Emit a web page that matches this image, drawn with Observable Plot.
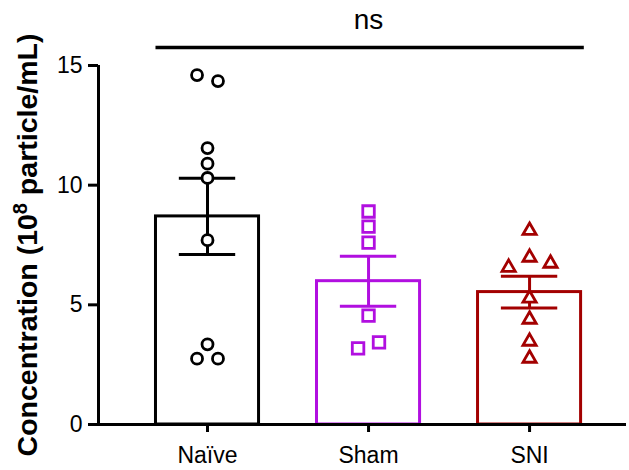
<!DOCTYPE html>
<html><head><meta charset="utf-8">
<script src="https://cdn.jsdelivr.net/npm/d3@7"></script>
<script src="https://cdn.jsdelivr.net/npm/@observablehq/plot@0.6"></script>
<style>body{margin:0;background:#fff;}</style>
</head><body><div id="chart"></div>
<script>
// ---- data ----
const groups = ["Naïve", "Sham", "SNI"];
const colors = ["#000000", "#b10fe0", "#a30000"];
const symbols = ["circle", "square", "triangle"];
const naive = [14.6, 14.35, 11.55, 10.9, 10.3, 7.7, 3.35, 2.75, 2.75];
const sham = [8.9, 8.27, 7.6, 4.55, 3.18, 3.43];
const sni = [8.1, 6.56, 6.98, 6.73, 5.27, 4.39, 3.47, 2.76];
const yTicks = [0, 5, 10, 15];
const yLabelParts = ["Concentration (10", "8", " particle/mL)"];
const sigLabel = "ns";

// ---- derived ----
const series = [naive, sham, sni];
const rowBin = 0.5;      // values closer than this share a row (beeswarm)
const spread = 0.13;     // horizontal step between dots in a row (x units)
const barHalf = 0.32, capHalf = 0.175;

const points = [];
series.forEach((vals, gi) => {
  const idx = vals.map((v, i) => i).sort((a, b) => vals[a] - vals[b] || a - b);
  const rows = [];
  for (const i of idx) {
    const row = rows[rows.length - 1];
    if (row && vals[i] - vals[row[0]] <= rowBin) row.push(i); else rows.push([i]);
  }
  for (const row of rows) {
    row.sort((a, b) => a - b);
    row.forEach((i, k) => points.push({gi, value: vals[i], x: gi + (k - (row.length - 1) / 2) * spread}));
  }
});
const summary = series.map((vals, gi) => {
  const m = d3.mean(vals), sem = d3.deviation(vals) / Math.sqrt(vals.length);
  return {gi, mean: m, lo: m - sem, hi: m + sem};
});
const sigY = d3.max(yTicks) * 1.05;
const xDomain = [-0.677, 2.602];

const dotStyle = [
  {symbol: symbols[0], r: 5.5},
  {symbol: symbols[1], r: 6.5},
  {symbol: symbols[2], r: 4.9}
];

const chart = Plot.plot({
  width: 629, height: 470,
  marginTop: 65, marginBottom: 46, marginLeft: 98, marginRight: 3,
  style: {fontFamily: "'Liberation Sans', Arial, sans-serif", fontSize: "23px", background: "white", overflow: "visible"},
  x: {type: "linear", domain: xDomain, label: null},
  y: {domain: [0, 15], label: null},
  color: {type: "identity"},
  marks: [
    Plot.rect(summary, {x1: d => d.gi - barHalf, x2: d => d.gi + barHalf, y1: 0, y2: "mean",
      fill: "white", stroke: d => colors[d.gi], strokeWidth: 3}),
    Plot.ruleX(summary, {x: "gi", y1: "lo", y2: "hi", stroke: d => colors[d.gi], strokeWidth: 3}),
    Plot.ruleY(summary, {y: "hi", x1: d => d.gi - capHalf, x2: d => d.gi + capHalf, stroke: d => colors[d.gi], strokeWidth: 3}),
    Plot.ruleY(summary, {y: "lo", x1: d => d.gi - capHalf, x2: d => d.gi + capHalf, stroke: d => colors[d.gi], strokeWidth: 3}),
    ...dotStyle.map((s, gi) => Plot.dot(points.filter(p => p.gi === gi), {
      x: "x", y: "value", symbol: s.symbol, r: s.r, fill: "white", stroke: colors[gi], strokeWidth: 2.8
    })),
    Plot.ruleY([0], {strokeWidth: 3}),
    Plot.ruleX([xDomain[0]], {strokeWidth: 3}),
    Plot.axisY({ticks: yTicks, tickSize: 10, tickPadding: 6, fontSize: 23, strokeWidth: 3, label: null}),
    Plot.axisX({ticks: [0, 1, 2], tickFormat: i => groups[i], tickSize: 8, tickPadding: 14, fontSize: 23, strokeWidth: 3, label: null}),
    Plot.ruleY([sigY], {x1: -barHalf, x2: 2 + barHalf + 0.02, strokeWidth: 3.5}),
    Plot.text([sigLabel], {x: 1, y: sigY, dy: -28, fontSize: 28}),
    Plot.text([yLabelParts.join("")], {frameAnchor: "left", dx: -71, rotate: -90, textAnchor: "middle",
      fontSize: 28.5, fontWeight: "bold", className: "ylab"})
  ]
});
document.getElementById("chart").appendChild(chart);

// render the exponent as a real superscript
d3.select(chart).selectAll("g.ylab text").each(function () {
  const t = d3.select(this);
  t.text(null);
  t.append("tspan").text(yLabelParts[0]);
  t.append("tspan").text(yLabelParts[1]).attr("font-size", "0.7em").attr("dy", "-0.5em");
  t.append("tspan").text(yLabelParts[2]).attr("dy", "0.35em");
});
</script>
</body></html>
